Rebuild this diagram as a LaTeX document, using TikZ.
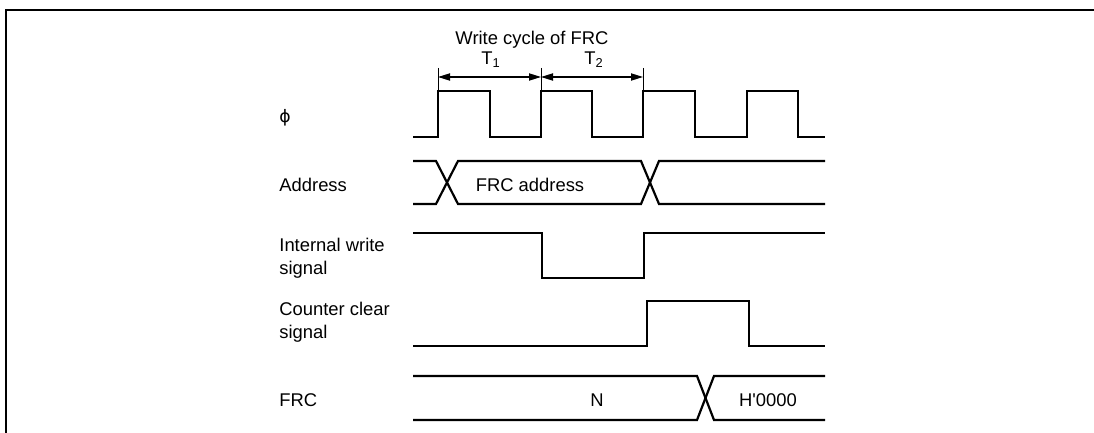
\documentclass[tikz,border=0pt]{standalone}
\usepackage{fontspec}
\newfontfamily\lib{Liberation Sans}
\newfontfamily\dejavu{DejaVu Sans}
\usetikzlibrary{arrows.meta}
\begin{document}
\begin{tikzpicture}[x=0.5pt,y=-0.5pt,
  wave/.style={line width=1.1pt, line join=miter},
  frame/.style={line width=1.4pt},
  lbl/.style={font=\lib\fontsize{9.2}{11.5}\selectfont, inner sep=0pt},
  sig/.style={lbl, anchor=west, align=left},
  ext/.style={line width=0.5pt},
  dimarrow/.style={line width=0.6pt, {Triangle[length=6pt,width=3.6pt]}-{Triangle[length=6pt,width=3.6pt]}}
]
\useasboundingbox (0,0) rectangle (1094,433);
% frame
\draw[frame] (6,433) -- (6,10) -- (1094,10);

% signal labels
\node[sig] (lphi) at (279,118) {\dejavu\fontsize{8.6}{10}\selectfont ϕ};
\node[sig] (laddr) at (279,185) {Address};
\node[sig] (lwr) at (279,258) {Internal write\\signal};
\node[sig] (lclr) at (279,322) {Counter clear\\signal};
\node[sig] (lfrc) at (279,400) {FRC};

% clock
\draw[wave] (413,137) -- (438,137) -- (438,91) -- (490,91) -- (490,137)
  -- (541,137) -- (541,91) -- (592,91) -- (592,137)
  -- (643,137) -- (643,91) -- (695,91) -- (695,137)
  -- (747,137) -- (747,91) -- (798,91) -- (798,137) -- (825,137);

% dimension for write cycle
\coordinate (e1) at (438,68);
\coordinate (e2) at (541,68);
\coordinate (e3) at (643,68);
\draw[ext] (e1) -- (438,91);
\draw[ext] (e2) -- (541,91);
\draw[ext] (e3) -- (643,91);
\coordinate (a1) at (438,77);
\coordinate (a2) at (541,77);
\coordinate (a3) at (643,77);
\draw[dimarrow] (a1) -- (a2);
\draw[dimarrow] (a2) -- (a3);
\node[lbl] (title) at (532,40) {Write cycle of FRC};
\node[lbl] (t1) at (491,60) {T\textsubscript{1}};
\node[lbl] (t2) at (594,60) {T\textsubscript{2}};

% address bus
\draw[wave] (413,161) -- (436,161) -- (458,204) -- (641,204) -- (659,161) -- (825,161);
\draw[wave] (413,204) -- (436,204) -- (458,161) -- (641,161) -- (659,204) -- (825,204);
\node[lbl] (addr) at (530,185) {FRC address};

% internal write signal
\draw[wave] (413,233) -- (542,233) -- (542,278) -- (644,278) -- (644,233) -- (825,233);

% counter clear signal
\draw[wave] (413,346) -- (647,346) -- (647,301) -- (749,301) -- (749,346) -- (825,346);

% FRC bus
\draw[wave] (413,376) -- (697,376) -- (714,420) -- (825,420);
\draw[wave] (413,420) -- (697,420) -- (714,376) -- (825,376);
\node[lbl] (n) at (597,400) {N};
\node[lbl] (h) at (768,400) {H'0000};
\end{tikzpicture}
\end{document}
